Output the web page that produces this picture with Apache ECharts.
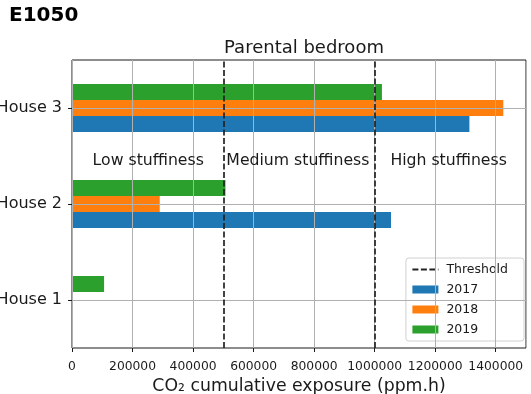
<!DOCTYPE html>
<html>
<head>
<meta charset="utf-8">
<script src="https://cdn.jsdelivr.net/npm/echarts@6/dist/echarts.min.js"></script>
<style>
  html, body { margin: 0; padding: 0; background: #fff; }
  #chart { width: 531px; height: 394px; }
</style>
</head>
<body>
<div id="chart"></div>
<script>
// Cumulative CO2 exposure per house and year (ppm.h)
const houses = ['House 1', 'House 2', 'House 3'];
const years = ['2017', '2018', '2019'];
const exposure2017 = [null, 1054000, 1313000];
const exposure2018 = [null, 290000, 1425000];
const exposure2019 = [106000, 507000, 1024000];
const thresholds = [500000, 1000000];
const xTickStep = 200000;
const xMax = 1500000;

// Stuffiness zones: label text and its x start (ppm.h)
const zoneLabels = ['Low stuffiness', 'Medium stuffiness', 'High stuffiness'];
const zoneStarts = [68000, 510000, 1052000];

const colors = ['#1f77b4', '#ff7f0e', '#2ca02c'];
const FONT = 'DejaVu Sans';
const INK = '#1a1a1a';
const GRID = '#b0b0b0';

const chart = echarts.init(document.getElementById('chart'), null, { renderer: 'canvas' });

const valueSeries = [exposure2017, exposure2018, exposure2019];
// Horizontal bars stack from the top of each band, so the newest year goes first
const barSeries = years.map((y, i) => ({
  name: y,
  type: 'bar',
  data: valueSeries[i],
  barWidth: 16,
  barGap: '0%',
  barCategoryGap: '50%',
  itemStyle: { color: colors[i] },
  z: 2
})).reverse();

const option = {
  animation: false,
  textStyle: { fontFamily: FONT },
  title: [
    {
      text: 'E1050', left: 4, top: 1,
      textStyle: { fontFamily: FONT, fontSize: 20, fontWeight: 'bold', color: '#000' }
    },
    {
      text: 'Parental bedroom', left: 299, top: 34, textAlign: 'center',
      textStyle: { fontFamily: FONT, fontSize: 18, fontWeight: 'normal', color: INK }
    }
  ],
  grid: {
    left: 72, right: 5, top: 60, bottom: 46,
    containLabel: false, outerBoundsMode: 'none',
    show: true, borderColor: INK, borderWidth: 1, backgroundColor: 'transparent'
  },
  legend: {
    orient: 'vertical',
    right: 7, bottom: 53,
    padding: [5, 16, 5, 5.5],
    itemWidth: 26, itemHeight: 8, itemGap: 7,
    backgroundColor: 'rgba(255,255,255,0.85)',
    borderColor: '#d0d0d0', borderWidth: 1, borderRadius: 3,
    textStyle: { fontFamily: FONT, fontSize: 12.5, color: INK, padding: [0, 0, 0, 3] },
    data: [
      { name: 'Threshold', itemStyle: { opacity: 0 } },
      { name: '2017', icon: 'rect' },
      { name: '2018', icon: 'rect' },
      { name: '2019', icon: 'rect' }
    ]
  },
  xAxis: {
    type: 'value', min: 0, max: xMax, interval: xTickStep, z: 5,
    name: 'CO\u2082 cumulative exposure (ppm.h)',
    nameLocation: 'middle', nameGap: 30,
    nameTextStyle: { fontFamily: FONT, fontSize: 17.3, color: INK },
    axisLine: { show: false },
    axisTick: { show: true, length: 4, lineStyle: { color: INK, width: 1 } },
    axisLabel: {
      showMaxLabel: false, margin: 13,
      fontFamily: FONT, fontSize: 12.3, color: INK,
      formatter: v => String(v)
    },
    splitLine: { show: true, lineStyle: { color: GRID, width: 1 } }
  },
  yAxis: {
    type: 'category', data: houses, z: 5,
    axisLine: { show: false },
    axisTick: { show: true, alignWithLabel: true, length: 4, lineStyle: { color: INK, width: 1 } },
    axisLabel: { margin: 10, fontFamily: FONT, fontSize: 16, color: INK },
    splitLine: { show: false }
  },
  series: [
    ...barSeries,
    {
      // horizontal grid lines through each house, drawn over the bars
      name: 'gridY', type: 'line', data: [], silent: true, z: 4,
      markLine: {
        silent: true, symbol: 'none', label: { show: false },
        lineStyle: { color: GRID, width: 1, type: 'solid' },
        data: houses.map(h => ({ yAxis: h }))
      }
    },
    {
      name: 'Threshold', type: 'line', data: [], symbol: 'none', showSymbol: false, z: 6,
      itemStyle: { color: '#222' },
      lineStyle: { color: '#222', width: 1.7, type: [6, 2.5] },
      markLine: {
        silent: true, symbol: 'none', label: { show: false },
        lineStyle: { color: '#222', width: 1.7, type: [6, 2.5] },
        data: thresholds.map(t => ({ xAxis: t }))
      }
    }
  ]
};

chart.setOption(option);

// Zone annotations between House 2 and House 3
const yMid = (chart.convertToPixel({ yAxisIndex: 0 }, houses[1]) +
              chart.convertToPixel({ yAxisIndex: 0 }, houses[2])) / 2;
chart.setOption({
  graphic: zoneLabels.map((txt, i) => ({
    type: 'text',
    x: chart.convertToPixel({ xAxisIndex: 0 }, zoneStarts[i]),
    y: yMid + 5,
    z: 10,
    style: {
      text: txt, fontFamily: FONT, fontSize: 15.7, fill: INK,
      textAlign: 'left', textVerticalAlign: 'middle'
    }
  }))
});
</script>
</body>
</html>
